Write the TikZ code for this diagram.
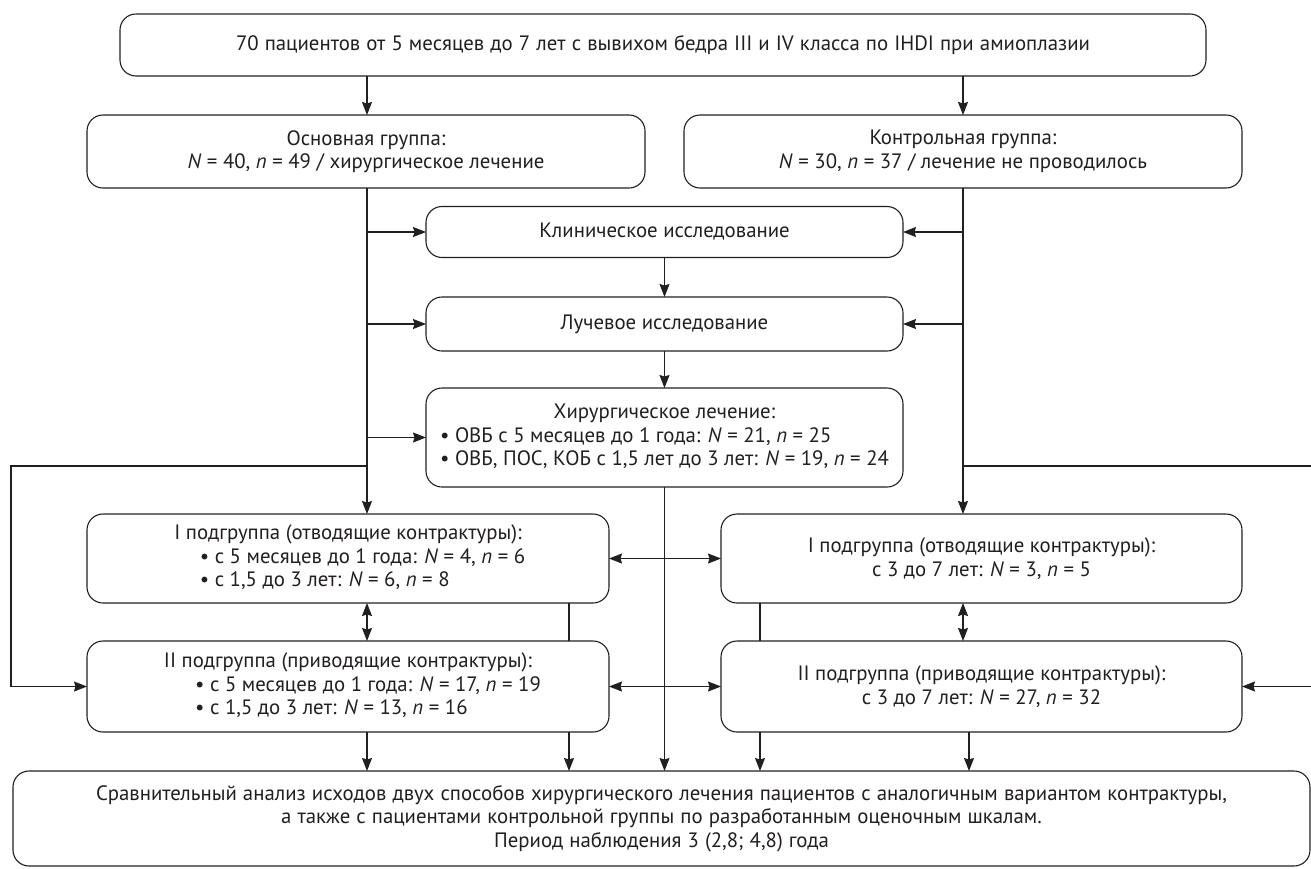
\documentclass[tikz,border=0pt]{standalone}
\usepackage{fontspec}
\setmainfont{PT Sans}
\usetikzlibrary{arrows.meta}
\definecolor{linec}{HTML}{231F20}
\definecolor{textc}{HTML}{231F20}
\newcommand{\bul}{•\ }
\newcommand{\boxfont}{\fontsize{20.8}{23.5}\selectfont}
\newcommand{\boxfontw}{\fontsize{20.8}{23.5}\selectfont\spaceskip=6.1pt\xspaceskip=6.1pt\relax}
\begin{document}
\begin{tikzpicture}[x=1pt,y=-1pt,
  box/.style={draw=linec, line width=1.1pt, rounded corners=16pt, align=center,
    inner sep=0pt, outer sep=0pt, text=textc, font=\boxfont},
  widesp/.style={font=\boxfontw},
  arr/.style={draw=linec, line width=1.1pt, -{Stealth[length=13pt,width=10pt,inset=1.5pt]}},
  arrb/.style={draw=linec, line width=1.1pt, {Stealth[length=13pt,width=10pt,inset=1.5pt]}-{Stealth[length=13pt,width=10pt,inset=1.5pt]}},
  ln/.style={draw=linec, line width=1.1pt}]
\useasboundingbox (0,0) rectangle (1311,868);
\fill[white] (0,0) rectangle (1311,868);

\node[box, widesp, minimum width=1086pt, minimum height=62pt] (top) at (663,45)
  {70 пациентов от 5 месяцев до 7 лет с вывихом бедра III и IV класса по IHDI при амиоплазии};

\node[box, minimum width=558pt, minimum height=73pt] (main) at (366,151.5)
  {Основная группа:\\ \textit{N} = 40, \textit{n} = 49 / хирургическое лечение};
\node[box, minimum width=558pt, minimum height=73pt] (ctrl) at (963,151.5)
  {Контрольная группа:\\ \textit{N} = 30, \textit{n} = 37 / лечение не проводилось};

\node[box, minimum width=477pt, minimum height=51pt] (clin) at (664.5,232)
  {Клиническое исследование};
\node[box, minimum width=477pt, minimum height=54pt] (ray) at (664.5,324)
  {Лучевое исследование};
\node[box, minimum width=477pt, minimum height=99pt] (surg) at (664.5,437.5)
  {\begin{tabular}{@{}l@{}}\multicolumn{1}{@{}c@{}}{Хирургическое лечение:}\\
   \bul ОВБ с 5 месяцев до 1 года: \textit{N} = 21, \textit{n} = 25\\
   \bul ОВБ, ПОС, КОБ с 1,5 лет до 3 лет: \textit{N} = 19, \textit{n} = 24\end{tabular}};

\node[box, minimum width=522pt, minimum height=89pt] (L1) at (348,558.5)
  {\begin{tabular}{@{}l@{}}\multicolumn{1}{@{}c@{}}{I подгруппа (отводящие контрактуры):}\\
   \hspace*{29pt}\bul с 5 месяцев до 1 года: \textit{N} = 4, \textit{n} = 6\\
   \hspace*{29pt}\bul с 1,5 до 3 лет: \textit{N} = 6, \textit{n} = 8\end{tabular}};
\node[box, minimum width=522pt, minimum height=91pt] (L2) at (348,686.5)
  {\begin{tabular}{@{}l@{}}\multicolumn{1}{@{}c@{}}{II подгруппа (приводящие контрактуры):}\\
   \hspace*{40pt}\bul с 5 месяцев до 1 года: \textit{N} = 17, \textit{n} = 19\\
   \hspace*{40pt}\bul с 1,5 до 3 лет: \textit{N} = 13, \textit{n} = 16\end{tabular}};

\node[box, minimum width=521pt, minimum height=89pt] (R1) at (981.5,558.5)
  {I подгруппа (отводящие контрактуры):\\ с 3 до 7 лет: \textit{N} = 3, \textit{n} = 5};
\node[box, minimum width=521pt, minimum height=91pt] (R2) at (981.5,686.5)
  {II подгруппа (приводящие контрактуры):\\ с 3 до 7 лет: \textit{N} = 27, \textit{n} = 32};

\node[box, widesp, minimum width=1297pt, minimum height=95pt] (bot) at (661.5,818.5)
  {Сравнительный анализ исходов двух способов хирургического лечения пациентов с аналогичным вариантом контрактуры,\\
   а также с пациентами контрольной группы по разработанным оценочным шкалам.\\
   Период наблюдения 3 (2,8; 4,8) года};

% coordinates for line columns
\coordinate (lx) at (367,0);
\coordinate (rx) at (963,0);
\coordinate (ly) at (0,466);
\coordinate (lfar) at (11,466);
\coordinate (rfar) at (1313,466);
\coordinate (lc2) at (569,0);
\coordinate (rc2) at (760,0);
\coordinate (rx2) at (969,0);

% top to groups
\draw[arr] (top.south -| lx) -- (main.north -| lx);
\draw[arr] (top.south -| rx) -- (ctrl.north -| rx);

% main trunk
\draw[arr] (main.south -| lx) -- (L1.north -| lx);
\draw[arr] (clin.west -| lx) -- (clin.west);
\draw[arr] (ray.west -| lx) -- (ray.west);
\draw[arr] (surg.west -| lx) -- (surg.west);
% control trunk
\draw[arr] (ctrl.south -| rx) -- (R1.north -| rx);
\draw[arr] (clin.east -| rx) -- (clin.east);
\draw[arr] (ray.east -| rx) -- (ray.east);

% center chain
\draw[arr] (clin.south) -- (ray.north);
\draw[arr] (ray.south) -- (surg.north);
\draw[arr] (surg.south) -- (surg.south |- bot.north);

% loops
\draw[arr] (ly -| lx) -- (lfar) |- (L2.west);
\draw[arr] (ly -| rx) -- (rfar) |- (R2.east);

% subgroup connections
\draw[arrb] (L1.east) -- (R1.west);
\draw[arrb] (L2.east) -- (R2.west);
\draw[arrb] (L1.south -| lx) -- (L2.north -| lx);
\draw[arrb] (R1.south -| rx) -- (R2.north -| rx);
\draw[ln] (L1.south -| lc2) -- (L2.north -| lc2);
\draw[ln] (R1.south -| rc2) -- (R2.north -| rc2);

% to bottom
\draw[arr] (L2.south -| lx) -- (bot.north -| lx);
\draw[arr] (L2.south -| lc2) -- (bot.north -| lc2);
\draw[arr] (R2.south -| rc2) -- (bot.north -| rc2);
\draw[arr] (R2.south -| rx2) -- (bot.north -| rx2);
\end{tikzpicture}
\end{document}
